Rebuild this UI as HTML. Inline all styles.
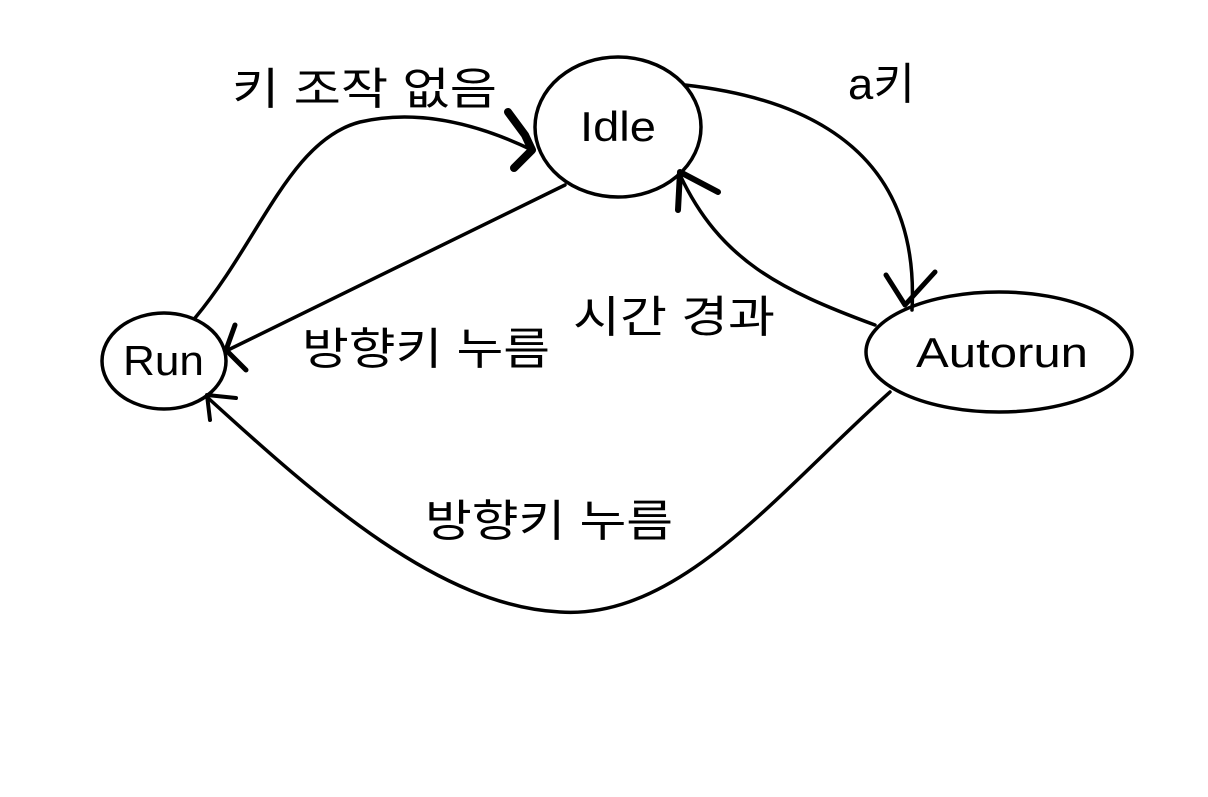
<!DOCTYPE html>
<html><head><meta charset="utf-8"><style>
html,body{margin:0;padding:0;background:#fff;}
svg text{font-family:"Liberation Sans","Noto Sans CJK KR","NanumGothic",sans-serif;fill:#000;}
</style></head><body>
<svg width="1208" height="792" viewBox="0 0 1208 792" xmlns="http://www.w3.org/2000/svg">
<g fill="none" stroke="#000" stroke-width="3.5" stroke-linecap="round" stroke-linejoin="round">
<ellipse cx="618" cy="127" rx="83" ry="70"/>
<ellipse cx="164" cy="361" rx="62" ry="48"/>
<ellipse cx="999" cy="352" rx="133" ry="60"/>
<path d="M195,318 C260,240 290,140 360,122 C420,108 480,125 532,150"/>
<path d="M508,112 L525,135 L532,150 L514,168" stroke-width="8"/>
<path d="M565,185 L228,350"/>
<path d="M235,325 L226,350 L246,370" stroke-width="5"/>
<path d="M685,85 C820,100 920,160 912,310"/>
<path d="M886,275 L905,305 L935,272" stroke-width="5"/>
<path d="M875,325 C780,290 720,260 680,175"/>
<path d="M678,210 L680,172 L718,192" stroke-width="6"/>
<path d="M890,392 C780,490 680,620 560,612 C440,606 320,500 207,397"/>
<path d="M210,420 L207,395 L236,398" stroke-width="4"/>
</g>
<g font-size="42">
<text x="580" y="141" textLength="76" lengthAdjust="spacingAndGlyphs">Idle</text>
<text x="123" y="375" textLength="81" lengthAdjust="spacingAndGlyphs">Run</text>
<text x="916" y="367" textLength="172" lengthAdjust="spacingAndGlyphs">Autorun</text>
</g>
<g font-size="44">
<text x="232" y="104" textLength="265" lengthAdjust="spacingAndGlyphs">키 조작 없음</text>
<text x="848" y="99" textLength="67" lengthAdjust="spacingAndGlyphs">a키</text>
<text x="573" y="332" textLength="202" lengthAdjust="spacingAndGlyphs">시간 경과</text>
<text x="302" y="364" textLength="248" lengthAdjust="spacingAndGlyphs">방향키 누름</text>
<text x="425" y="536" textLength="248" lengthAdjust="spacingAndGlyphs">방향키 누름</text>
</g>
</svg>
</body></html>
